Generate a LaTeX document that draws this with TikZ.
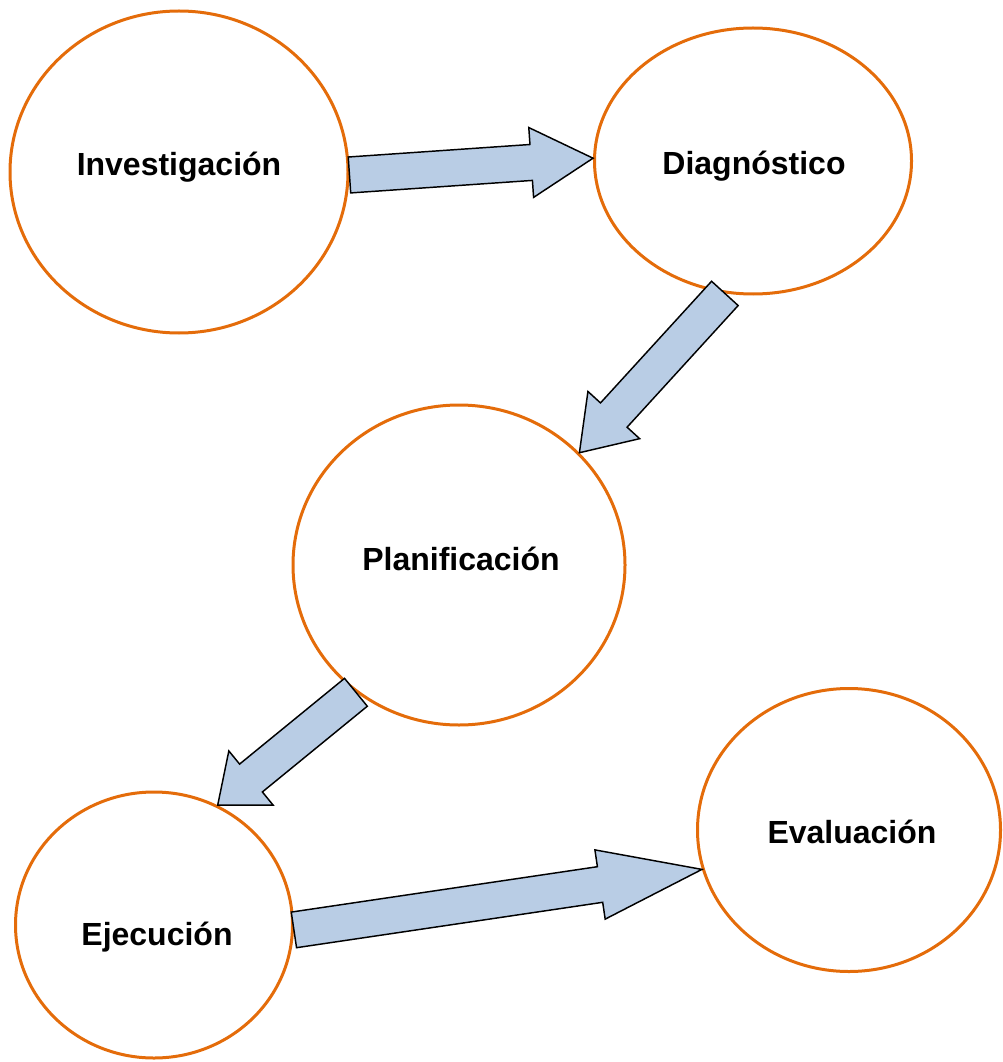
\documentclass[tikz,border=0pt]{standalone}
\usepackage{fontspec}
\setmainfont{Liberation Sans}
\usetikzlibrary{shapes.geometric,calc}
\definecolor{ringColor}{HTML}{E46C0A}
\definecolor{arrowColor}{HTML}{B9CDE5}
\definecolor{fgColor}{HTML}{000000}

\tikzset{
  stage/.style={ellipse, draw=ringColor, line width=2.25pt, inner sep=0pt},
  stageText/.style={anchor=base, inner sep=0pt, text=fgColor, font=\fontsize{24}{28}\selectfont\bfseries},
  arrowBody/.style={draw=fgColor, fill=arrowColor, line width=1.1pt},
}
% block arrow: tail, tip, head length
\newcommand{\blockArrow}[3]{%
  \coordinate (base) at ($(#2)!#3!(#1)$);
  \draw [arrowBody] ($(#1)!13.5pt!90:(#2)$) -- ($(base)!13.5pt!90:(#2)$) -- ($(base)!26.25pt!90:(#2)$) -- (#2) -- ($(base)!26.25pt!-90:(#2)$) -- ($(base)!13.5pt!-90:(#2)$) -- ($(#1)!13.5pt!-90:(#2)$) -- cycle;
}

\begin{document}
\begin{tikzpicture}[x=0.75pt,y=0.75pt,yscale=-1]
		\useasboundingbox (0,0) rectangle (1002,1062);

		% Ellipses
		\node [stage, minimum width=253.5pt,  minimum height=241.5pt]  (inv)  at (179,172) {};
		\node [stage, minimum width=237.75pt, minimum height=199.5pt]  (dia)  at (753,161) {};
		\node [stage, minimum width=249pt,    minimum height=240pt]    (plan) at (459,565) {};
		\node [stage, minimum width=207.75pt, minimum height=199.5pt]  (eje)  at (154,925) {};
		\node [stage, minimum width=227.25pt, minimum height=212.25pt] (eva)  at (849,830) {};

		% Arrows
		\blockArrow{inv.-1}{dia.179}{46.5pt}
		\blockArrow{dia.-102}{plan.43}{38.25pt}
		\blockArrow{plan.231}{eje.62}{32.25pt}
		\blockArrow{eje.-2}{eva.-165}{77.25pt}

		% Text Node
		\node [stageText] (invText)  at (179,176) {Investigación};
		\node [stageText] (diaText)  at (754,175) {Diagnóstico};
		\node [stageText] (planText) at (461,570) {Planificación};
		\node [stageText] (ejeText)  at (157,945) {Ejecución};
		\node [stageText] (evaText)  at (852,843) {Evaluación};
	\end{tikzpicture}
\end{document}
